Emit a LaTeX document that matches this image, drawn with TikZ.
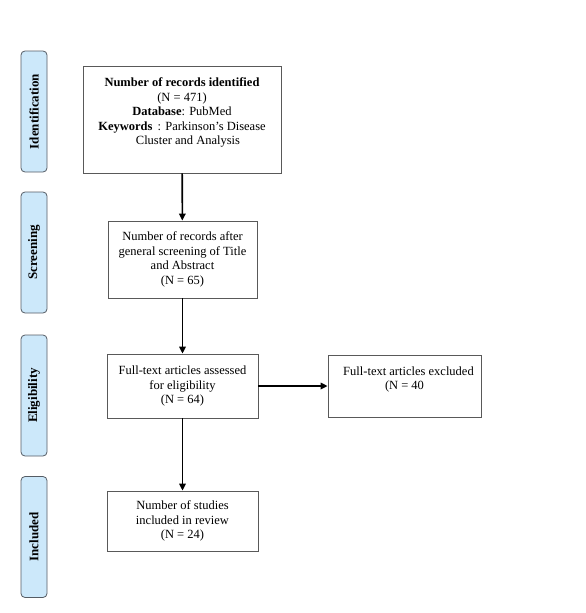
\documentclass[tikz,border=0pt]{standalone}
\usepackage{fontspec}
\setmainfont{Liberation Serif}
\usetikzlibrary{arrows.meta}

\definecolor{phasefill}{RGB}{204,232,250}
\definecolor{phaseline}{RGB}{85,92,100}

\tikzset{
  phase/.style={draw=phaseline, fill=phasefill, rounded corners=4pt, line width=0.8pt,
    minimum width=121pt, minimum height=26pt, inner sep=0pt, rotate=90,
    font=\bfseries\fontsize{13}{15}\selectfont},
  flowbox/.style={draw=black!65, line width=0.8pt, align=center, inner sep=0pt,
    font=\fontsize{12.5}{14.4}\selectfont},
  flowarrow/.style={-{Triangle[length=7pt,width=6.5pt]}, line width=1.6pt}
}

\begin{document}
\begin{tikzpicture}[x=1pt,y=-1pt]
\useasboundingbox (0,0) rectangle (586,613);

% phases
\node[phase] (ident)  at (34,111.5) {Identification};
\node[phase] (screen) at (34,252.5) {Screening};
\node[phase] (elig)   at (34,395.5) {Eligibility};
\node[phase] (incl)   at (34,537)   {Included};

% boxes
\node[flowbox, minimum width=198pt, minimum height=107pt] (identified) at (182,119.5)
  {\textbf{Number of records identified}\\(N = 471)\\\textbf{Database}: PubMed\\
   \textbf{Keywords} \,: Parkinson’s Disease\\\hspace{12pt}Cluster and Analysis\\[2pt]};
\node[flowbox, minimum width=149pt, minimum height=77pt] (screened) at (182.5,259.5)
  {Number of records after\\general screening of Title\\and Abstract\\(N = 65)};
\node[flowbox, minimum width=151pt, minimum height=64pt] (assessed) at (182.5,386)
  {Full-text articles assessed\\for eligibility\\(N = 64)};
\node[flowbox, minimum width=153pt, minimum height=62pt] (excluded) at (404.5,386)
  {\hspace{8pt}Full-text articles excluded\\(N = 40\\[1pt]};
\node[flowbox, minimum width=151pt, minimum height=60pt] (included) at (182.5,521)
  {Number of studies\\included in review\\(N = 24)};

% arrows
\draw[flowarrow] (identified) -- (screened);
\draw[flowarrow] (screened) -- (assessed);
\draw[flowarrow] (assessed) -- (excluded);
\draw[flowarrow] (assessed) -- (included);
\end{tikzpicture}
\end{document}
